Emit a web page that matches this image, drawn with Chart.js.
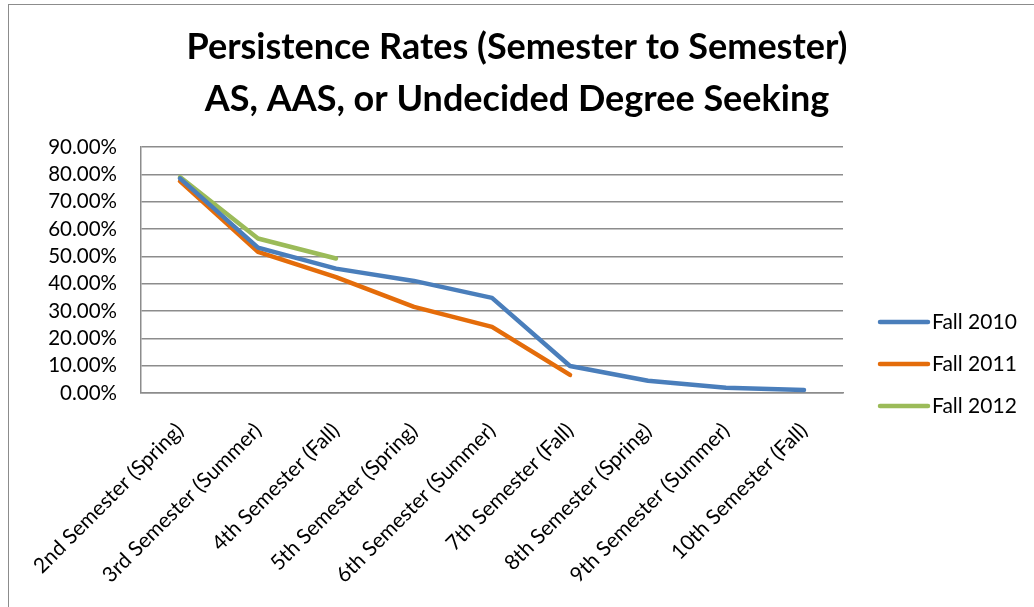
<!DOCTYPE html>
<html>
<head>
<meta charset="utf-8">
<script src="https://cdn.jsdelivr.net/npm/chart.js@4/dist/chart.umd.min.js"></script>
<style>
  body { margin: 0; background: #fff; }
  #frame {
    position: absolute; left: 8px; top: 4px; width: 1100px; height: 700px;
    border-top: 1.5px solid #8c8c8c; border-left: 1.5px solid #8c8c8c;
  }
  #wrap { position: absolute; left: 0; top: 0; width: 1034px; height: 607px; }
</style>
</head>
<body>
<div id="frame"></div>
<div id="wrap"><canvas id="persistChart"></canvas></div>
<script>
// categories (x axis)
const semesters = [
  "2nd Semester (Spring)",
  "3rd Semester (Summer)",
  "4th Semester (Fall)",
  "5th Semester (Spring)",
  "6th Semester (Summer)",
  "7th Semester (Fall)",
  "8th Semester (Spring)",
  "9th Semester (Summer)",
  "10th Semester (Fall)",
];
// persistence rates in percent
const fall2010 = [78.5, 53.2, 45.5, 41.0, 34.8, 9.9, 4.5, 1.9, 1.1];
const fall2011 = [77.5, 51.6, 42.4, 31.5, 24.2, 6.6];
const fall2012 = [79.0, 56.5, 49.2];
const seriesNames = ["Fall 2010", "Fall 2011", "Fall 2012"];
const titleLines = [
  "Persistence Rates (Semester to Semester)",
  "AS, AAS, or Undecided Degree Seeking",
];

const FONT = "Lato, 'Open Sans', sans-serif";

// legend drawn at the right like excel does it
const sideLegend = {
  id: "sideLegend",
  afterDraw(chart) {
    const ctx = chart.ctx;
    const ys = [322, 364, 406];
    ctx.save();
    chart.data.datasets.forEach((ds, i) => {
      ctx.strokeStyle = ds.borderColor;
      ctx.lineWidth = 4.5;
      ctx.lineCap = "round";
      ctx.beginPath();
      ctx.moveTo(880, ys[i]);
      ctx.lineTo(928, ys[i]);
      ctx.stroke();
      ctx.fillStyle = "#000";
      ctx.font = "21px " + FONT;
      ctx.textBaseline = "middle";
      ctx.fillText(ds.label, 932, ys[i]);
    });
    ctx.restore();
  },
};

new Chart("persistChart", {
  type: "line",
  data: {
    labels: semesters,
    datasets: [
      { label: seriesNames[0], data: fall2010, borderColor: "#4a7ebb" },
      { label: seriesNames[1], data: fall2011, borderColor: "#e46c0a" },
      { label: seriesNames[2], data: fall2012, borderColor: "#9bbb59" },
    ],
  },
  options: {
    responsive: true,
    maintainAspectRatio: false,
    animation: false,
    elements: {
      line: { borderWidth: 4.5, tension: 0, borderCapStyle: "round", borderJoinStyle: "round" },
      point: { radius: 0, hoverRadius: 0 },
    },
    layout: { padding: 0 },
    plugins: {
      legend: { display: false },
      tooltip: { enabled: false },
      title: {
        display: true,
        text: titleLines,
        color: "#000",
        font: { family: FONT, size: 36, weight: "bold", lineHeight: 1.444 },
        padding: { top: 21, bottom: 22 },
      },
    },
    scales: {
      x: {
        offset: true,
        grid: { display: false, drawTicks: false },
        border: { color: "#8c8c8c", width: 1.5 },
        ticks: {
          color: "#000",
          font: { family: FONT, size: 21 },
          maxRotation: 45,
          minRotation: 45,
          padding: 25,
          autoSkip: false,
        },
        afterFit(scale) {
          scale.height = 607 - 393;
          // keep the plot edges fixed even though labels stick out
          scale.paddingLeft = 0;
          scale.paddingRight = 0;
        },
      },
      y: {
        min: 0,
        max: 90,
        grid: { color: "#8c8c8c", lineWidth: 1.5, drawTicks: false },
        border: { color: "#8c8c8c", width: 1.5 },
        ticks: {
          stepSize: 10,
          autoSkip: false,
          color: "#000",
          font: { family: FONT, size: 20.5 },
          padding: 24,
          callback: (v) => v.toFixed(2) + "%",
        },
        afterFit(scale) { scale.width = 141; },
      },
      // empty axis that keeps room for the legend on the right
      side: {
        position: "right",
        grid: { display: false, drawTicks: false },
        border: { display: false },
        ticks: { display: false },
        afterFit(scale) { scale.width = 1034 - 843; },
      },
    },
  },
  plugins: [sideLegend],
});
</script>
</body>
</html>
